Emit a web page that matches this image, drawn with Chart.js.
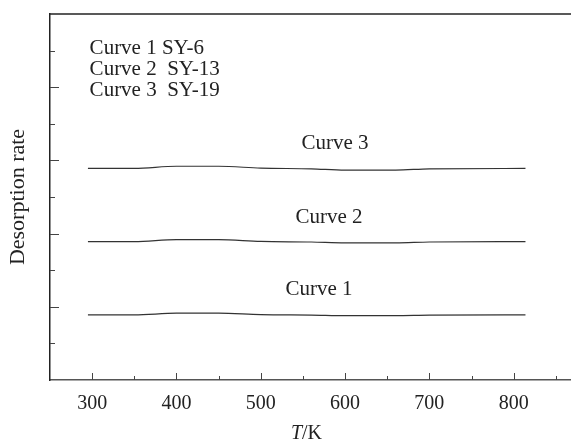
<!DOCTYPE html>
<html>
<head>
<meta charset="utf-8">
<script src="https://cdn.jsdelivr.net/npm/chart.js@4"></script>
<style>
  body { margin: 0; background: #fff; overflow: hidden; }
</style>
</head>
<body>
<canvas id="chart" width="571" height="442"></canvas>
<script>
// Data
const temps = [295, 350, 400, 450, 500, 560, 600, 660, 700, 814]
const curve1 = [1.78, 1.78, 1.825, 1.825, 1.785, 1.775, 1.76, 1.76, 1.775, 1.78]
const curve2 = [3.78, 3.78, 3.835, 3.835, 3.785, 3.77, 3.745, 3.745, 3.77, 3.78]
const curve3 = [5.78, 5.78, 5.84, 5.84, 5.79, 5.77, 5.735, 5.735, 5.77, 5.78]
const seriesNames = ['Curve 1', 'Curve 2', 'Curve 3']
const legendLines = ['Curve 1 SY-6', 'Curve 2  SY-13', 'Curve 3  SY-19']
// label anchors in data units (x, y)
const labelX = [569, 581, 588]
const labelY = [2.46, 4.45, 6.47]

const FONT = '"Liberation Serif", "Times New Roman", serif'

const toPoints = (ys) => temps.map((t, i) => ({ x: t, y: ys[i] }))

// custom ticks, annotations and frame
const decor = {
  id: 'decor',
  afterDraw(chart) {
    const { ctx, chartArea: a, scales: { x, y } } = chart
    ctx.save()
    ctx.strokeStyle = '#444'
    ctx.lineWidth = 1
    x.ticks.forEach(t => {
      if (t.value <= 250) return
      const px = Math.round(x.getPixelForValue(t.value)) + 0.5
      const len = t.value % 100 === 0 ? 7 : 4
      ctx.beginPath()
      ctx.moveTo(px, a.bottom)
      ctx.lineTo(px, a.bottom - len)
      ctx.stroke()
    })
    y.ticks.forEach(t => {
      if (t.value <= 0 || t.value >= 10) return
      const py = Math.round(y.getPixelForValue(t.value)) + 0.5
      const len = t.value % 2 === 0 ? 9 : 5
      ctx.beginPath()
      ctx.moveTo(a.left, py)
      ctx.lineTo(a.left + len, py)
      ctx.stroke()
    })
    // top frame line
    ctx.strokeStyle = '#222'
    ctx.lineWidth = 1.5
    ctx.beginPath()
    ctx.moveTo(a.left, a.top)
    ctx.lineTo(a.right, a.top)
    ctx.stroke()

    ctx.fillStyle = '#222'
    ctx.font = '21px ' + FONT
    ctx.textBaseline = 'middle'
    ctx.textAlign = 'center'
    seriesNames.forEach((name, i) => {
      ctx.fillText(name, x.getPixelForValue(labelX[i]), y.getPixelForValue(labelY[i]))
    })
    ctx.textAlign = 'left'
    ctx.textBaseline = 'alphabetic'
    legendLines.forEach((txt, i) => {
      ctx.fillText(txt, x.getPixelForValue(297), 54 + i * 21)
    })

    // x title: italic T + /K
    const cx = (a.left + a.right) / 2 - 4
    ctx.font = 'italic 20px ' + FONT
    const wT = ctx.measureText('T').width
    ctx.font = '20px ' + FONT
    const wR = ctx.measureText('/K').width
    const x0 = cx - (wT + wR) / 2
    ctx.font = 'italic 20px ' + FONT
    ctx.fillText('T', x0, 439)
    ctx.font = '20px ' + FONT
    ctx.fillText('/K', x0 + wT, 439)
    ctx.restore()
  }
}

const lineStyle = {
  borderColor: '#333',
  borderWidth: 1.2,
  pointRadius: 0,
  fill: false,
  cubicInterpolationMode: 'monotone'
}

new Chart(document.getElementById('chart'), {
  type: 'line',
  data: {
    datasets: [
      { label: seriesNames[0], data: toPoints(curve1), ...lineStyle },
      { label: seriesNames[1], data: toPoints(curve2), ...lineStyle },
      { label: seriesNames[2], data: toPoints(curve3), ...lineStyle }
    ]
  },
  options: {
    responsive: false,
    animation: false,
    layout: { padding: { top: 14, left: 0, right: 0, bottom: 0 } },
    plugins: {
      legend: { display: false },
      tooltip: { enabled: false }
    },
    scales: {
      x: {
        type: 'linear',
        min: 250,
        max: 868,
        afterFit: (s) => { s.height = 62 },
        border: { display: true, color: '#555', width: 1.5 },
        grid: { display: false, drawTicks: false },
        ticks: {
          stepSize: 50,
          includeBounds: false,
          autoSkip: false,
          maxRotation: 0,
          padding: 12,
          color: '#222',
          font: { family: FONT, size: 20 },
          callback: (v) => (v % 100 === 0 && v >= 300 && v <= 800 ? String(v) : '')
        }
      },
      y: {
        min: 0,
        max: 10,
        afterFit: (s) => { s.width = 50 },
        border: { display: true, color: '#222', width: 1.5 },
        grid: { display: false, drawTicks: false },
        ticks: { stepSize: 1, display: false },
        title: {
          display: true,
          text: 'Desorption rate',
          color: '#222',
          font: { family: FONT, size: 22 },
          padding: { top: 5, bottom: 0 }
        }
      }
    }
  },
  plugins: [decor]
})
</script>
</body>
</html>
